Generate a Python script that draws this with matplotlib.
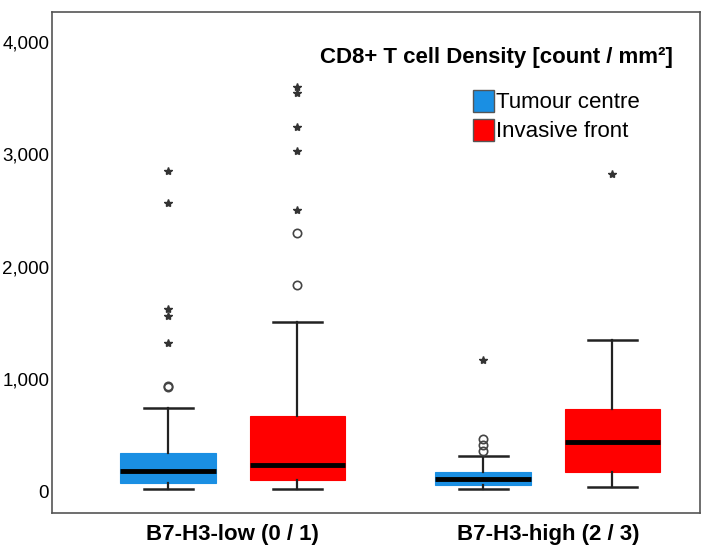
import matplotlib as mpl
mpl.use('Agg')
import matplotlib.pyplot as plt
from matplotlib.patches import Patch

plt.rcParams['font.family'] = ['Liberation Sans', 'DejaVu Sans']

# groups / series
groups = ['B7-H3-low (0 / 1)', 'B7-H3-high (2 / 3)']
series = ['Tumour centre', 'Invasive front']
colors = ['#1A8FE3', '#FF0000']

# box stats: low whisker, q1, median, q3, high whisker
# order: low-centre, low-front, high-centre, high-front
whislo = [20, 20, 20, 40]
q1 = [70, 100, 55, 170]
med = [180, 235, 105, 440]
q3 = [340, 670, 170, 730]
whishi = [740, 1505, 310, 1350]

# outliers (circles) and extremes (stars)
circles = [[925, 935], [1840, 2300], [360, 410, 460], []]
stars = [[1320, 1560, 1620, 2570, 2850],
         [2500, 3030, 3240, 3550, 3600],
         [1170],
         [2820]]

positions = [1, 2, 3.44, 4.44]

fig = plt.figure(figsize=(7.1, 5.57), dpi=100)
ax = fig.add_axes([0.0732, 0.079, 0.913, 0.899])

stats = []
for i in range(4):
    stats.append({'whislo': whislo[i], 'q1': q1[i], 'med': med[i],
                  'q3': q3[i], 'whishi': whishi[i], 'fliers': []})

bp = ax.bxp(stats, positions=positions, widths=0.74, capwidths=0.38,
            patch_artist=True, showfliers=False,
            medianprops=dict(color='black', linewidth=3.5),
            whiskerprops=dict(color='#222222', linewidth=1.6),
            capprops=dict(color='#222222', linewidth=1.8))
for i, box in enumerate(bp['boxes']):
    box.set_facecolor(colors[i % 2])
    box.set_edgecolor(colors[i % 2])
    box.set_linewidth(0.8)

for i in range(4):
    if circles[i]:
        ax.plot([positions[i]] * len(circles[i]), circles[i], 'o',
                mfc='none', mec='#444444', ms=6, mew=1.2)
    if stars[i]:
        ax.plot([positions[i]] * len(stars[i]), stars[i], '*',
                color='#333333', ms=6)

ax.set_xlim(0.10, 5.12)
ax.set_ylim(-195, 4265)
ax.set_yticks([0, 1000, 2000, 3000, 4000])
ax.set_yticklabels(['0', '1,000', '2,000', '3,000', '4,000'], fontsize=13.5)
ax.set_xticks([1.5, 3.94])
ax.set_xticklabels(groups, fontsize=16, fontweight='bold')
ax.tick_params(length=0)
ax.tick_params(axis='y', pad=2)
ax.tick_params(axis='x', pad=8)
for s in ax.spines.values():
    s.set_color('#555555')
    s.set_linewidth(1.2)

handles = [Patch(facecolor=colors[0], edgecolor='#555555'),
           Patch(facecolor=colors[1], edgecolor='#555555')]
ax.text(0.958, 0.910, 'CD8+ T cell Density [count / mm²]', transform=ax.transAxes,
        ha='right', va='center', fontsize=16, fontweight='bold')
ax.legend(handles, series, loc='upper left', bbox_to_anchor=(0.636, 0.863),
          frameon=False, fontsize=16, handlelength=0.95, handleheight=1.15,
          handletextpad=0.1, labelspacing=0.25, borderaxespad=0)

plt.savefig('out.png')
